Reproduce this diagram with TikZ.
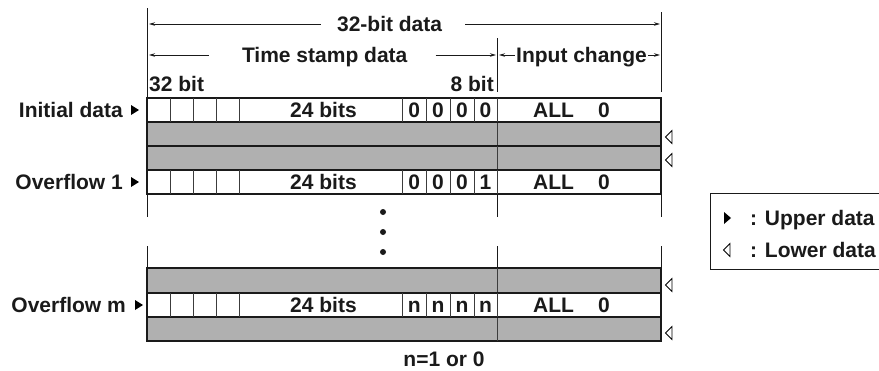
\documentclass[tikz,border=0pt]{standalone}
\usepackage{fontspec}
\setmainfont{Liberation Sans}
\usetikzlibrary{arrows.meta, positioning}
\definecolor{rowgray}{HTML}{B0B0B0}
\definecolor{inkgray}{HTML}{1A1A1A}
\tikzset{
  lbl/.style={font=\fontsize{21}{24}\selectfont\bfseries,text=inkgray,inner sep=0pt,text height=15pt,text depth=0pt},
  frameline/.style={line width=1.3pt,draw=inkgray},
  cellline/.style={line width=0.9pt,draw=inkgray!85},
  grayrow/.style={frameline,fill=rowgray},
  whiterow/.style={frameline,fill=white},
  dimarrow/.style={-{Stealth[length=6pt,width=3.5pt]},line width=0.9pt,inkgray},
  uppertri/.style={fill=black},
  lowertri/.style={draw=black,line width=0.8pt,fill=white},
  dotmark/.style={circle,fill=inkgray,inner sep=0pt,minimum size=6pt},
}

\begin{document}
\begin{tikzpicture}[x=1pt,y=-1pt]
  \useasboundingbox (0,0) rectangle (879,370);

  % dimension lines above the words
  \draw[frameline,line width=1pt] (147,8) -- (147,98);
  \draw[frameline,line width=1pt] (661,12) -- (661,92);
  \draw[frameline,line width=1pt] (497,38) -- (497,92);
  \node[lbl] (tWord) at (389.6,24) {32-bit data};
  \node[lbl] (tStamp) at (324.7,55) {Time stamp data};
  \node[lbl] (tInput) at (581.5,55) {Input change};
  \coordinate (aWordL) at (149,24);
  \coordinate (aWordR) at (660,24);
  \coordinate (aStampL) at (149,55);
  \coordinate (aStampR) at (496,55);
  \coordinate (aInputL) at (499,55);
  \coordinate (aInputR) at (660,55);
  \draw[dimarrow] ([xshift=-16pt]tWord.west) -- (aWordL);
  \draw[dimarrow] ([xshift=23pt]tWord.east) -- (aWordR);
  \draw[dimarrow] ([xshift=-33pt]tStamp.west) -- (aStampL);
  \draw[dimarrow] ([xshift=28pt]tStamp.east) -- (aStampR);
  \draw[dimarrow] ([xshift=-1pt]tInput.west) -- (aInputL);
  \draw[dimarrow] ([xshift=1pt]tInput.east) -- (aInputR);
  \node[lbl,anchor=west] (tMsb) at (149,84) {32 bit};
  \node[lbl,anchor=east] (tLsb) at (494,84) {8 bit};

  % lower data rows
  \foreach \top/\bot in {121.5/146,146/170,268/293,317/341}{
    \draw[grayrow] (147,\top) rectangle (661,\bot);
    \draw[cellline] (497,\top) -- (497,\bot);
  }

  % upper data rows
  \foreach \top/\rname/\va/\vb/\vc/\vd in {98/ini/0/0/0/0,170/ovf/0/0/0/1,293/ovm/n/n/n/n}{
    \draw[whiterow] (147,\top) rectangle (661,\top+24);
    \foreach \x in {170.5,193.5,216.5,239.5,402.5,426,450,474,497}
      \draw[cellline] (\x,\top) -- (\x,\top+24);
    \node[lbl] (bits\rname) at (323.5,\top+12) {24 bits};
    \node[lbl] (ba\rname) at (414.3,\top+12) {\va};
    \node[lbl] (bb\rname) at (438,\top+12) {\vb};
    \node[lbl] (bc\rname) at (462,\top+12) {\vc};
    \node[lbl] (bd\rname) at (485.5,\top+12) {\vd};
    \node[lbl] (all\rname) at (553.5,\top+12) {ALL};
    \node[lbl] (zero\rname) at (604,\top+12) {0};
  }

  % row names
  \node[lbl,anchor=east] (nIni) at (123,110) {Initial data};
  \node[lbl,anchor=east] (nOvf) at (123,182) {Overflow 1};
  \node[lbl,anchor=east] (nOvm) at (126,305) {Overflow m};
  \fill[uppertri] (131,105) -- (139,110) -- (131,115) -- cycle;
  \fill[uppertri] (131,177) -- (139,182) -- (131,187) -- cycle;
  \fill[uppertri] (135,300) -- (143,305) -- (135,310) -- cycle;

  % lower data marks
  \foreach \y in {137,160,285,333}
    \draw[lowertri] (665.5,\y) -- (672,\y-6.5) -- (672,\y+6.5) -- cycle;

  % omitted rows
  \foreach \x in {147,497,661}{
    \draw[frameline,line width=1pt] (\x,194.5) -- (\x,217);
    \draw[frameline,line width=1pt] (\x,246) -- (\x,268);
  }
  \foreach \y/\dname in {212/dA,232/dB,252/dC}
    \node[dotmark] (\dname) at (383,\y) {};

  \node[lbl] (nNote) at (444,359) {n=1 or 0};

  % legend
  \draw[frameline,line width=1pt] (879,193) -- (710.5,193) -- (710.5,269) -- (879,269);
  \fill[uppertri] (724,212) -- (731,218) -- (724,224) -- cycle;
  \draw[lowertri] (723.5,250) -- (730,243.5) -- (730,256.5) -- cycle;
  \node[lbl,anchor=west] (lUpper) at (750,218) {: Upper data};
  \node[lbl,anchor=west] (lLower) at (750,250) {: Lower data};
\end{tikzpicture}
\end{document}
